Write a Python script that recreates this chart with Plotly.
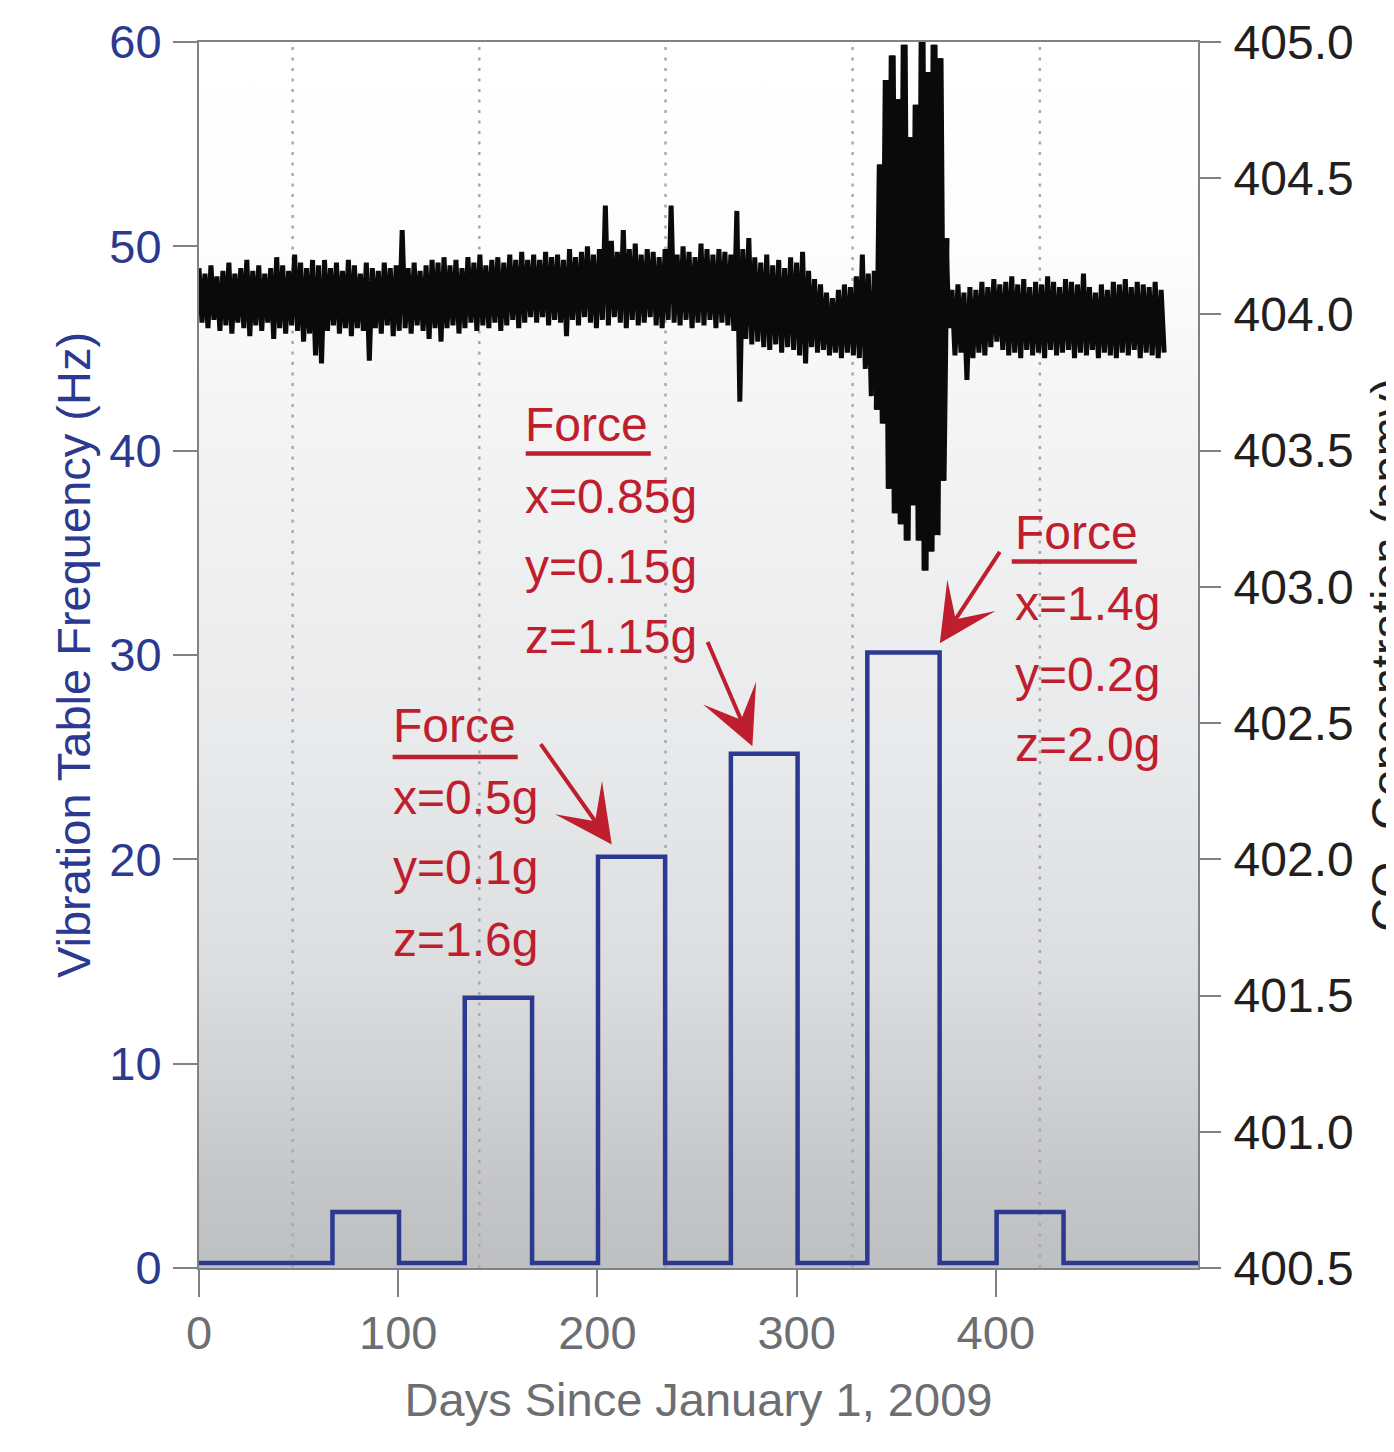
import plotly.graph_objects as go

# ---------------- data ----------------
# vibration table frequency (Hz) step profile (hv steps)
vib_days = [0, 67, 100.4, 133.4, 167.2, 200.3, 234, 267, 300.5, 335.5, 371.8, 400.4, 434, 501.5]
vib_hz = [0.25, 2.74, 0.25, 13.22, 0.25, 20.13, 0.25, 25.17, 0.25, 30.12, 0.25, 2.74, 0.25, 0.25]

# CO2 concentration (ppmv): upper / lower excursions, one pair every 3 days
co2_step_days = 3
co2_upper = [
    404.17, 404.15, 404.18, 404.14, 404.16, 404.19, 404.15, 404.17, 404.20, 404.16,
    404.18, 404.15, 404.17, 404.21, 404.18, 404.16, 404.22, 404.19, 404.17, 404.20,
    404.18, 404.20, 404.17, 404.19, 404.16, 404.20, 404.18, 404.15, 404.19, 404.17,
    404.16, 404.19, 404.17, 404.18, 404.31, 404.17, 404.19, 404.16, 404.18, 404.20,
    404.19, 404.21, 404.18, 404.20, 404.17, 404.21, 404.19, 404.22, 404.18, 404.20,
    404.21, 404.19, 404.22, 404.20, 404.23, 404.20,
    404.22, 404.20, 404.23, 404.21, 404.22, 404.20, 404.24, 404.21, 404.23, 404.25,
    404.22, 404.24, 404.40, 404.27, 404.23, 404.31, 404.24, 404.26, 404.22, 404.24,
    404.23, 404.21, 404.24, 404.40, 404.22, 404.25, 404.23, 404.21, 404.26, 404.24,
    404.22, 404.24, 404.23,
    404.22, 404.38, 404.24, 404.28, 404.21, 404.19, 404.22, 404.18, 404.20, 404.17,
    404.21, 404.19, 404.23, 404.16, 404.13, 404.11, 404.08, 404.06, 404.09, 404.11,
    404.10, 404.14, 404.22,
    404.15, 404.16, 404.55, 404.86, 404.95, 404.79, 404.99, 404.65, 404.77, 405.00,
    404.89, 404.99, 404.94, 404.28,
    404.09, 404.11, 404.08, 404.10, 404.09, 404.12, 404.10, 404.13, 404.11, 404.12,
    404.14, 404.11, 404.13, 404.10, 404.12, 404.11, 404.14, 404.12, 404.10, 404.13,
    404.12, 404.11, 404.15, 404.10, 404.08, 404.11, 404.09, 404.12, 404.11, 404.13,
    404.10, 404.12, 404.11, 404.10, 404.12, 404.09,
]
co2_lower = [
    403.97, 403.95, 403.98, 403.94, 403.96, 403.93, 403.97, 403.95, 403.92, 403.96,
    403.94, 403.97, 403.91, 403.95, 403.93, 403.96, 403.94, 403.90, 403.93, 403.85,
    403.82, 403.94, 403.96, 403.93, 403.95, 403.92, 403.95, 403.94, 403.83, 403.95,
    403.93, 403.96, 403.92, 403.94, 403.95, 403.93, 403.96, 403.94, 403.91, 403.95,
    403.90, 403.95, 403.96, 403.93, 403.95, 403.97, 403.94, 403.96, 403.95, 403.97,
    403.94, 403.96, 403.98, 403.95, 403.97, 403.99,
    403.97, 403.99, 403.96, 403.98, 403.97, 403.92, 403.98, 403.96, 403.99, 403.97,
    403.95, 403.98, 403.96, 403.99, 403.97, 403.95, 403.98, 403.96, 403.97, 403.99,
    403.96, 403.95, 403.98, 403.97, 403.96, 403.98, 403.95, 403.97, 403.96, 403.98,
    403.95, 403.97, 403.96,
    403.94, 403.68, 403.91, 403.89, 403.90, 403.88, 403.87, 403.89, 403.86, 403.88,
    403.87, 403.85, 403.82, 403.88, 403.86, 403.87, 403.85, 403.86, 403.84, 403.86,
    403.85, 403.84, 403.80,
    403.70, 403.65, 403.60, 403.36, 403.27, 403.23, 403.17, 403.30, 403.17, 403.06,
    403.13, 403.19, 403.39, 403.95,
    403.85, 403.86, 403.76, 403.84, 403.86, 403.85, 403.88, 403.90, 403.87, 403.85,
    403.86, 403.84, 403.87, 403.85, 403.86, 403.84, 403.87, 403.85, 403.86, 403.87,
    403.84, 403.86, 403.85, 403.87, 403.84, 403.86, 403.85, 403.84, 403.86, 403.85,
    403.87, 403.84, 403.86, 403.85, 403.84, 403.86,
]
assert len(co2_upper) == len(co2_lower)
# days spanning the strong perturbation burst
burst_days = [340, 376]

# vertical dotted reference lines (days)
marker_days = [47.0, 140.7, 234.2, 328.1, 422.1]

x_ticks = [0, 100, 200, 300, 400]
y_ticks = [0, 10, 20, 30, 40, 50, 60]
y2_ticks = [400.5, 401.0, 401.5, 402.0, 402.5, 403.0, 403.5, 404.0, 404.5, 405.0]

annotation_blocks = [
    ["Force", "x=0.5g", "y=0.1g", "z=1.6g"],
    ["Force", "x=0.85g", "y=0.15g", "z=1.15g"],
    ["Force", "x=1.4g", "y=0.2g", "z=2.0g"],
]

# ---------------- style ----------------
FONT = "Liberation Sans, Arial, Helvetica, sans-serif"
FS = 47
BLUE = "#2b3990"
RED = "#be1e2d"
GRAY_TXT = "#6d6e71"
AX_GRAY = "#808285"
X_RANGE = [0, 501.5]
Y_RANGE = [0, 60]
Y2_RANGE = [400.5, 405.0]

fig = go.Figure()

# background gradient
fig.add_trace(go.Scatter(
    x=[X_RANGE[0], X_RANGE[1], X_RANGE[1], X_RANGE[0], X_RANGE[0]],
    y=[Y_RANGE[0], Y_RANGE[0], Y_RANGE[1], Y_RANGE[1], Y_RANGE[0]],
    mode="none", fill="toself",
    fillgradient=dict(type="vertical", start=Y_RANGE[0], stop=Y_RANGE[1],
                      colorscale=[[0, "#bebfc1"], [0.07, "#c5c6c8"], [0.24, "#dcdddf"],
                                  [0.43, "#e9eaeb"], [0.71, "#f5f5f6"], [0.83, "#fdfdfd"],
                                  [1, "#ffffff"]]),
    hoverinfo="skip", showlegend=False,
))

# dotted vertical markers
mx, my = [], []
for d in marker_days:
    mx += [d, d, None]
    my += [Y_RANGE[0], Y_RANGE[1], None]
fig.add_trace(go.Scatter(x=mx, y=my, mode="lines",
                         line=dict(color="#a7a9ac", width=2.5, dash="3px,7.5px"),
                         hoverinfo="skip", showlegend=False))

# vibration step
fig.add_trace(go.Scatter(x=vib_days, y=vib_hz, mode="lines", line_shape="hv",
                         line=dict(color=BLUE, width=4.5), showlegend=False))

# CO2 trace
co2_x, co2_y = [], []
for i, (u, l) in enumerate(zip(co2_upper, co2_lower)):
    co2_x += [i * co2_step_days, i * co2_step_days + co2_step_days / 2]
    co2_y += [u, l]
fig.add_trace(go.Scatter(x=co2_x, y=co2_y, mode="lines", yaxis="y2",
                         line=dict(color="#0a0a0a", width=5), showlegend=False))
# same data in the burst, drawn with a heavier stroke (dense record there)
bx_, by_ = zip(*[(xx, yy) for xx, yy in zip(co2_x, co2_y) if burst_days[0] <= xx <= burst_days[1]])
fig.add_trace(go.Scatter(x=list(bx_), y=list(by_), mode="lines", yaxis="y2",
                         line=dict(color="#0a0a0a", width=7), showlegend=False))

# annotation text blocks
block_x = [96.6, 162.6, 408.6]
block_y = [[26.54, 23.02, 19.60, 16.07],
           [41.28, 37.76, 34.33, 30.90],
           [36.00, 32.52, 29.04, 25.61]]
underlines = [(97.2, 160.0, 25.01), (164.0, 226.8, 39.86), (408.0, 470.8, 34.57)]
for bx, bys, lines in zip(block_x, block_y, annotation_blocks):
    for yy, txt in zip(bys, lines):
        fig.add_annotation(x=bx, y=yy, xref="x", yref="y", text=txt, showarrow=False,
                           xanchor="left", yanchor="middle",
                           font=dict(family=FONT, size=48, color=RED))
for x0, x1, yy in underlines:
    fig.add_shape(type="line", x0=x0, x1=x1, y0=yy, y1=yy, xref="x", yref="y",
                  line=dict(color=RED, width=4.5))

arrows = [((171.0, 25.71), (207.2, 20.72)),
          ((255.0, 30.71), (277.8, 25.54)),
          ((402.5, 35.12), (371.9, 30.57))]
for (tx, ty), (hx, hy) in arrows:
    fig.add_annotation(x=hx, y=hy, ax=tx, ay=ty, xref="x", yref="y", axref="x", ayref="y",
                       text="", showarrow=True, arrowhead=3, arrowsize=2.4, arrowwidth=4,
                       arrowcolor=RED, standoff=0)

# right-hand axis title (runs off the right edge, as in the original)
fig.add_annotation(text="CO<sub>2</sub> Concentration (ppmv)", textangle=-90,
                   xref="paper", yref="paper", x=1.161, y=0.5,
                   xanchor="left", yanchor="middle", showarrow=False,
                   font=dict(family=FONT, size=FS, color="#231f20"))

fig.update_layout(
    width=1386, height=1444,
    margin=dict(l=191, r=196, t=34, b=184, autoexpand=False),
    paper_bgcolor="white", plot_bgcolor="rgba(0,0,0,0)",
    font=dict(family=FONT, size=FS),
    showlegend=False,
    xaxis=dict(range=X_RANGE, tickvals=x_ticks, ticks="outside", ticklen=27, tickwidth=2,
               tickcolor=AX_GRAY, showline=True, linecolor=AX_GRAY, linewidth=2, mirror=True,
               showgrid=False, zeroline=False, automargin=False, ticklabelstandoff=-4,
               tickfont=dict(family=FONT, size=FS, color=GRAY_TXT),
               title=dict(text="Days Since January 1, 2009", standoff=25,
                          font=dict(family=FONT, size=FS, color=GRAY_TXT))),
    yaxis=dict(range=Y_RANGE, tickvals=y_ticks, ticks="outside", ticklen=24, tickwidth=2,
               tickcolor=AX_GRAY, showline=True, linecolor=AX_GRAY, linewidth=2,
               showgrid=False, zeroline=False, automargin=False, ticklabelstandoff=2,
               tickfont=dict(family=FONT, size=FS, color=BLUE),
               title=dict(text="Vibration Table Frequency (Hz)", standoff=4,
                          font=dict(family=FONT, size=FS, color=BLUE))),
    yaxis2=dict(range=Y2_RANGE, tickvals=y2_ticks, tickformat=".1f", overlaying="y", side="right",
                ticks="outside", ticklen=21, tickwidth=2, tickcolor=AX_GRAY,
                showline=True, linecolor=AX_GRAY, linewidth=2, showgrid=False, zeroline=False,
                automargin=False, ticklabelstandoff=3,
                tickfont=dict(family=FONT, size=48, color="#231f20")),
)

fig.write_html("out.html")
